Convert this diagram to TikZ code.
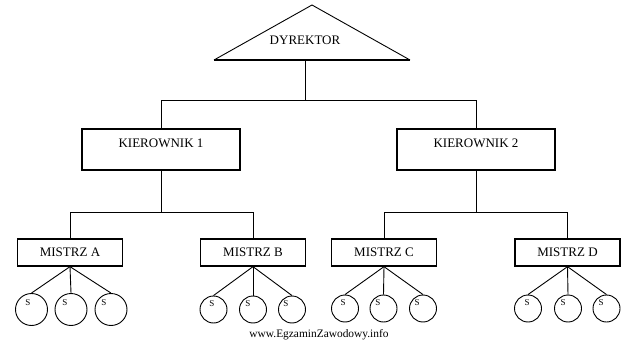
\documentclass[tikz,border=0pt]{standalone}
\usepackage{fontspec}
\setmainfont{Liberation Serif}
\tikzset{
  every picture/.style={x=1pt,y=-1pt},
  conn/.style={draw=black,line width=0.9pt},
  kbox/.style={draw=black,line width=1.3pt,minimum width=158pt,minimum height=41pt,inner sep=0pt,font=\fontsize{13}{15}\selectfont,text height=9pt,text depth=13pt},
  mbox/.style={draw=black,line width=1.3pt,minimum width=105pt,minimum height=27pt,inner sep=0pt,font=\fontsize{13}{15}\selectfont},
  sbig/.style={draw=black,line width=0.9pt,circle,minimum size=32pt,inner sep=0pt},
  ssmall/.style={draw=black,line width=0.9pt,circle,minimum size=27pt,inner sep=0pt},
  slab/.style={inner sep=0pt,font=\fontsize{9}{10}\selectfont},
  ttext/.style={inner sep=0pt,font=\fontsize{13}{15}\selectfont}
}
\begin{document}
\begin{tikzpicture}
\useasboundingbox (0,0) rectangle (638,340);
\fill[white] (0,0) rectangle (638,340);
% director triangle
\coordinate (tapex) at (312,5);
\coordinate (tleft) at (214,60);
\coordinate (tright) at (410,60);
\coordinate (tbase) at (305,60);
\draw[line width=0.9pt] (tleft) -- (tapex) -- (tright);
\draw[line width=2pt] (tleft) -- (tright);
\node[ttext] (dyr) at (305,40) {DYREKTOR};
% managers
\node[kbox] (k1) at (161,149.5) {KIEROWNIK 1};
\node[kbox] (k2) at (476,149.5) {KIEROWNIK 2};
\coordinate (bus1) at (305,100);
\draw[conn] (tbase) -- (bus1);
\draw[conn] (k1.north) |- (bus1);
\draw[conn] (k2.north) |- (bus1);
% foremen
\node[mbox] (ma) at (70,252.5) {MISTRZ A};
\node[mbox] (mb) at (253,252.5) {MISTRZ B};
\node[mbox] (mc) at (384,252.5) {MISTRZ C};
\node[mbox] (md) at (567.5,252.5) {MISTRZ D};
\coordinate (bus2) at (161,212);
\coordinate (bus3) at (476,212);
\draw[conn] (k1.south) -- (bus2);
\draw[conn] (ma.north) |- (bus2);
\draw[conn] (mb.north) |- (bus2);
\draw[conn] (k2.south) -- (bus3);
\draw[conn] (mc.north) |- (bus3);
\draw[conn] (md.north) |- (bus3);
% workers A
\node[sbig] (a1) at (31.5,309.5) {};
\node[sbig] (a2) at (71,309.5) {};
\node[sbig] (a3) at (111,309.5) {};
\node[slab] at (28,303) {S};
\node[slab] at (65,303) {S};
\node[slab] at (104,303) {S};
% workers B
\node[ssmall] (b1) at (213.5,309.5) {};
\node[ssmall] (b2) at (253,309.5) {};
\node[ssmall] (b3) at (292,309.5) {};
\node[slab] at (212,304) {S};
\node[slab] at (248,304) {S};
\node[slab] at (286,304) {S};
% workers C
\node[ssmall] (c1) at (345,308.5) {};
\node[ssmall] (c2) at (383.5,308.5) {};
\node[ssmall] (c3) at (423,308.5) {};
\node[slab] at (343,303) {S};
\node[slab] at (378,303) {S};
\node[slab] at (417,303) {S};
% workers D
\node[ssmall] (d1) at (528,308.5) {};
\node[ssmall] (d2) at (568,308.5) {};
\node[ssmall] (d3) at (606.5,308.5) {};
\node[slab] at (527,303) {S};
\node[slab] at (563,303) {S};
\node[slab] at (601,303) {S};
% connectors to workers
\foreach \m/\w in {ma/a1,ma/a2,ma/a3,mb/b1,mb/b2,mb/b3,mc/c1,mc/c2,mc/c3,md/d1,md/d2,md/d3}
  \draw[conn] (\m.south) -- (\w.north);
% watermark
\node[inner sep=0pt,font=\fontsize{11.4}{13}\selectfont] (wm) at (319,335) {www.EgzaminZawodowy.info};
\end{tikzpicture}
\end{document}
